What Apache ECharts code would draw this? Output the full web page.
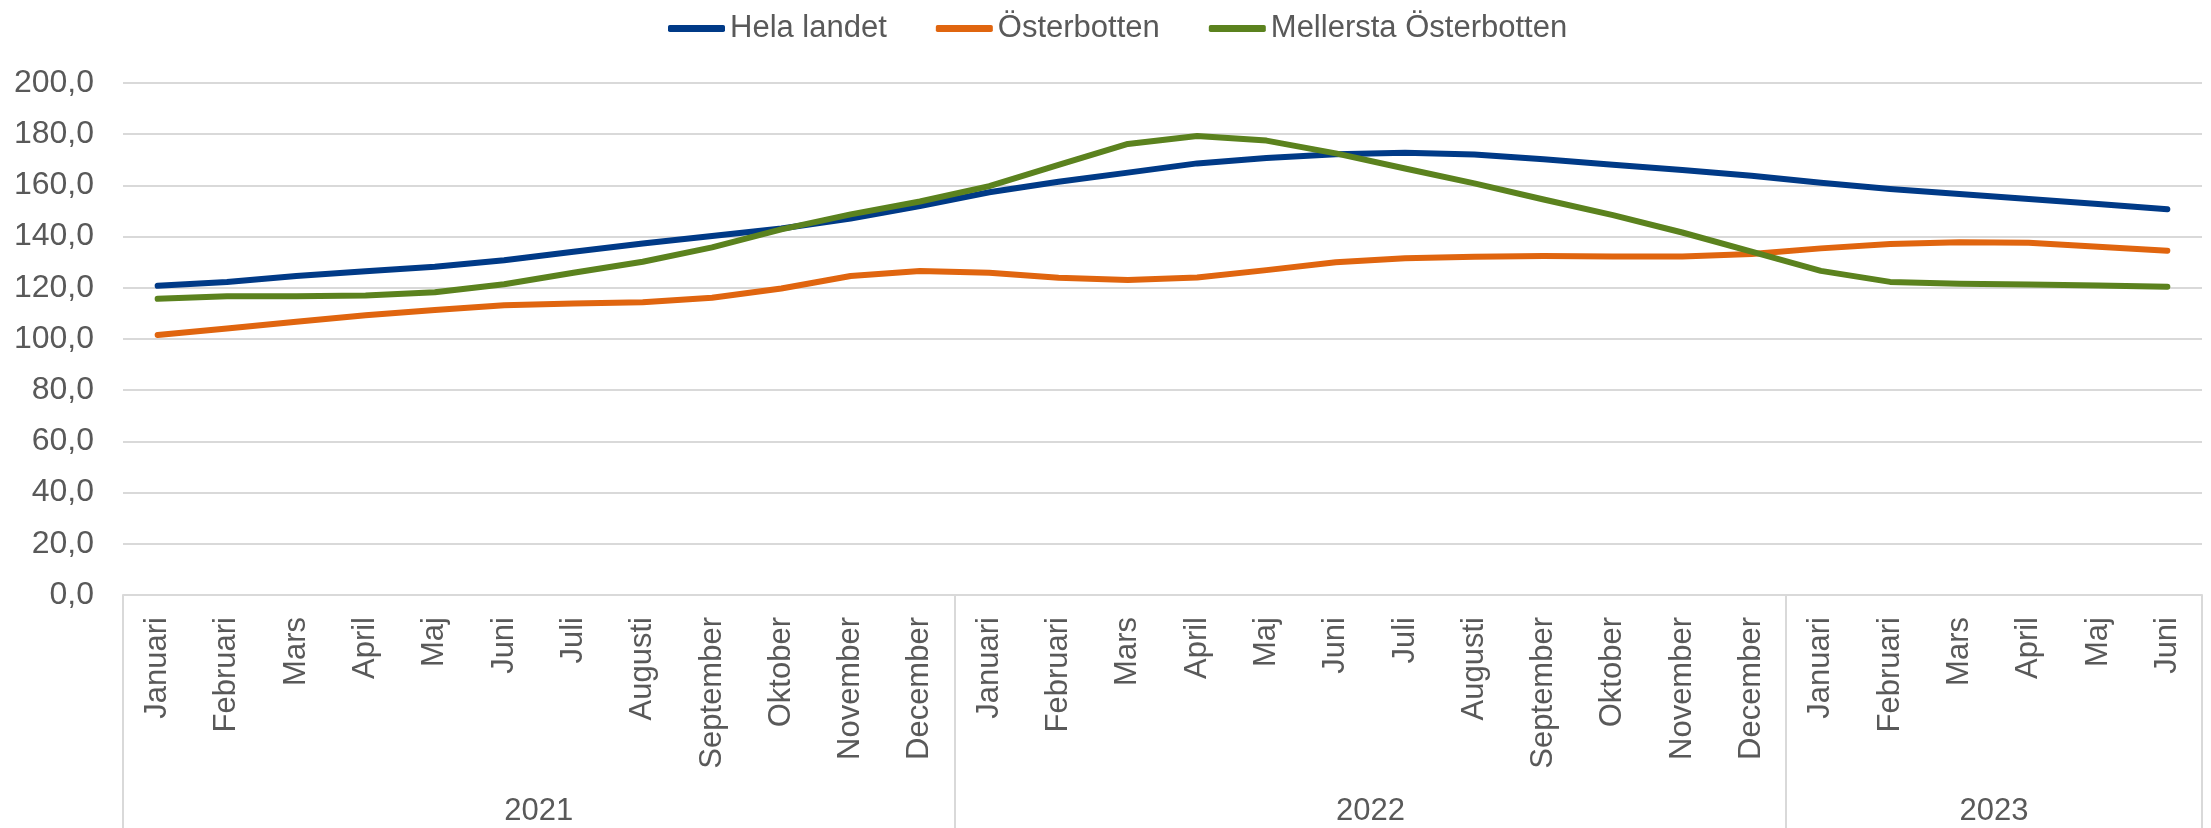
<!DOCTYPE html>
<html>
<head>
<meta charset="utf-8">
<script src="https://cdn.jsdelivr.net/npm/echarts@6/dist/echarts.min.js"></script>
<style>
    html, body { margin: 0; padding: 0; background: #fff; }
    #chart { width: 2211px; height: 828px; }
</style>
</head>
<body>
<div id="chart"></div>
<script>
// månader och år (tick labels)
const monthNames = ['Januari', 'Februari', 'Mars', 'April', 'Maj', 'Juni', 'Juli', 'Augusti', 'September', 'Oktober', 'November', 'December'];
const years = ['2021', '2022', '2023'];
const monthsPerYear = [12, 12, 6];

// serier
const helaLandet = [120.8, 122.3, 124.6, 126.5, 128.2, 130.8, 134.1, 137.3, 140.2, 143.2, 147.1, 151.9,
    157.3, 161.4, 165.0, 168.6, 170.7, 172.2, 172.8, 172.1, 170.2, 168.1, 166.0, 163.8,
    161.0, 158.6, 156.6, 154.7, 152.7, 150.7];
const osterbotten = [101.6, 104.1, 106.7, 109.3, 111.3, 113.2, 113.9, 114.4, 116.1, 119.7, 124.6, 126.6,
    125.9, 123.9, 123.0, 124.0, 126.9, 130.0, 131.5, 132.1, 132.4, 132.2, 132.2, 133.2,
    135.4, 137.1, 137.8, 137.6, 136.0, 134.5];
const mellersta = [115.7, 116.7, 116.7, 117.0, 118.3, 121.4, 125.9, 130.2, 135.8, 142.8, 148.7, 153.7,
    159.7, 168.0, 176.2, 179.3, 177.5, 172.5, 166.6, 160.8, 154.5, 148.4, 141.6, 134.1,
    126.6, 122.3, 121.6, 121.3, 120.9, 120.4];

const seriesNames = ['Hela landet', 'Österbotten', 'Mellersta Österbotten'];
const seriesData = [helaLandet, osterbotten, mellersta];
const colors = ['#003A87', '#E0650F', '#5B821E'];

// kategorier + årsgränser
let categories = [],
    yearBounds = [0],
    yearCenters = [];
monthsPerYear.forEach((n, i) => {
    const start = yearBounds[yearBounds.length - 1];
    for (let m = 0; m < n; m++) categories.push(monthNames[m]);
    yearBounds.push(start + n);
    yearCenters.push(start + n / 2);
});
const total = categories.length;

const textColor = '#595959',
    lineGray = '#D9D9D9',
    font = 'Liberation Sans, Arial, sans-serif',
    fs = 31;

const chart = echarts.init(document.getElementById('chart'));
chart.setOption({
    animation: false,
    color: colors,
    legend: {
        top: 8,
        left: 663,
        itemWidth: 57,
        itemHeight: 7,
        itemGap: 49,
        icon: 'roundRect',
        textStyle: { color: textColor, fontFamily: font, fontSize: fs },
        data: seriesNames
    },
    grid: { left: 123, right: 9, top: 83, bottom: 233, containLabel: false },
    xAxis: [{
        type: 'category',
        data: categories,
        axisLine: { lineStyle: { color: lineGray, width: 2 } },
        axisTick: { show: false },
        axisLabel: {
            rotate: 90,
            interval: 0,
            margin: 22,
            color: textColor,
            fontFamily: font,
            fontSize: fs
        }
    }, {
        // årsnivå: gränslinjer och årtal
        type: 'value',
        position: 'bottom',
        min: 0,
        max: total,
        axisLine: { show: false },
        splitLine: { show: false },
        axisTick: {
            show: true,
            customValues: yearBounds,
            length: 233,
            lineStyle: { color: lineGray, width: 2 }
        },
        axisLabel: {
            customValues: yearCenters,
            margin: 201,
            color: textColor,
            fontFamily: font,
            fontSize: fs,
            formatter(val) {
                const idx = yearCenters.indexOf(val);
                return idx >= 0 ? years[idx] : '';
            }
        }
    }],
    yAxis: {
        type: 'value',
        min: 0,
        max: 200,
        interval: 20,
        axisLine: { show: false },
        axisTick: { show: false },
        splitLine: { lineStyle: { color: lineGray, width: 2 } },
        axisLabel: {
            margin: 29,
            color: textColor,
            fontFamily: font,
            fontSize: 32,
            formatter: v => v.toFixed(1).replace('.', ',')
        }
    },
    series: seriesNames.map((name, i) => ({
        name: name,
        type: 'line',
        xAxisIndex: 0,
        data: seriesData[i],
        showSymbol: false,
        symbol: 'none',
        lineStyle: { width: 6, color: colors[i], cap: 'round', join: 'round' }
    }))
});
</script>
</body>
</html>
